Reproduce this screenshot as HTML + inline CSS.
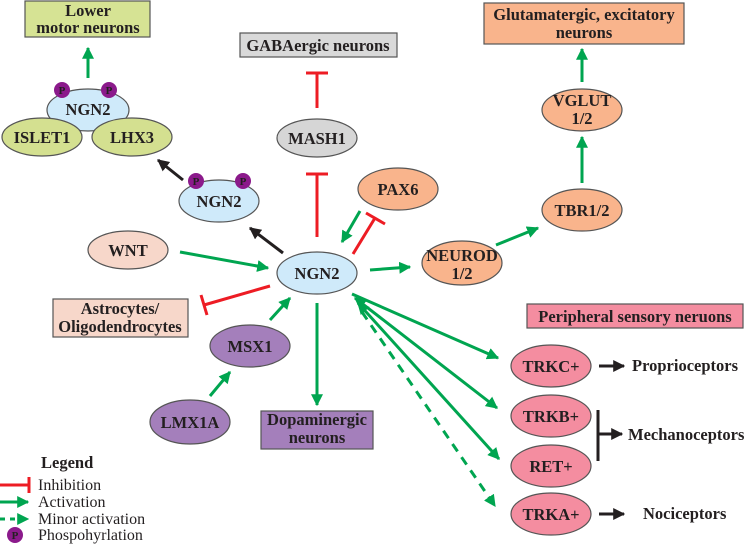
<!DOCTYPE html>
<html><head><meta charset="utf-8"><style>
html,body{margin:0;padding:0;background:#fff;}
svg{display:block;}
text{font-family:"Liberation Serif",serif;font-weight:bold;fill:#231f20;}
</style></head><body>
<svg width="744" height="545" viewBox="0 0 744 545" xmlns="http://www.w3.org/2000/svg">
<defs>
<marker id="g" viewBox="0 0 10 10" refX="9" refY="5" markerWidth="4" markerHeight="4" orient="auto-start-reverse" markerUnits="strokeWidth"><path d="M0,0 L10,5 L0,10 z" fill="#00a550"/></marker>
<marker id="k" viewBox="0 0 10 10" refX="9" refY="5" markerWidth="4" markerHeight="4" orient="auto" markerUnits="strokeWidth"><path d="M0,0 L10,5 L0,10 z" fill="#231f20"/></marker>
</defs>
<g stroke="#555" stroke-width="1.2">
<rect x="25" y="1" width="125" height="36" fill="#d6e394"/>
<rect x="240" y="33" width="157" height="24" fill="#d9d9d9"/>
<rect x="484" y="3" width="200" height="41" fill="#f9b48c"/>
<rect x="53" y="299" width="135" height="38" fill="#f7d7ca"/>
<rect x="261" y="411" width="112" height="38" fill="#a47fbb"/>
<rect x="527" y="304" width="216" height="24" fill="#f48da0"/>
<ellipse cx="88" cy="110" rx="41" ry="21" fill="#cfeafa"/>
<ellipse cx="42" cy="137" rx="40" ry="19" fill="#d4e090"/>
<ellipse cx="132" cy="137" rx="40" ry="19" fill="#d4e090"/>
<ellipse cx="219" cy="201" rx="40" ry="21" fill="#cfeafa"/>
<ellipse cx="317" cy="138" rx="40" ry="19" fill="#d6d6d6"/>
<ellipse cx="398" cy="189" rx="40" ry="21" fill="#f9b48c"/>
<ellipse cx="317" cy="273" rx="40" ry="21" fill="#cfeafa"/>
<ellipse cx="462" cy="263" rx="40" ry="22" fill="#f9b48c"/>
<ellipse cx="582" cy="210" rx="40" ry="21" fill="#f9b48c"/>
<ellipse cx="582" cy="110" rx="40" ry="21" fill="#f9b48c"/>
<ellipse cx="128" cy="250" rx="40" ry="19" fill="#f7d7ca"/>
<ellipse cx="250" cy="346" rx="40" ry="21" fill="#a47fbb"/>
<ellipse cx="190" cy="422" rx="40" ry="22" fill="#a47fbb"/>
<ellipse cx="551" cy="366" rx="40" ry="21" fill="#f48da0"/>
<ellipse cx="551" cy="416" rx="40" ry="21" fill="#f48da0"/>
<ellipse cx="551" cy="466" rx="40" ry="21" fill="#f48da0"/>
<ellipse cx="551" cy="514" rx="40" ry="21" fill="#f48da0"/>
</g>
<g fill="#8b1a8b">
<circle cx="62" cy="90" r="8"/><circle cx="109" cy="90" r="8"/>
<circle cx="196" cy="181" r="8"/><circle cx="243" cy="181" r="8"/>
<circle cx="15" cy="535" r="8"/>
</g>
<g font-size="11" text-anchor="middle">
<text x="62" y="94">P</text><text x="109" y="94">P</text>
<text x="196" y="185">P</text><text x="243" y="185">P</text>
<text x="15" y="539">P</text>
</g>
<g stroke="#00a550" stroke-width="3" fill="none" marker-end="url(#g)">
<line x1="88" y1="78" x2="88" y2="48"/>
<line x1="582" y1="82" x2="582" y2="49"/>
<line x1="582" y1="183" x2="582" y2="137"/>
<line x1="496" y1="245" x2="538" y2="228"/>
<line x1="370" y1="270" x2="410" y2="267"/>
<line x1="360" y1="211" x2="342" y2="242"/>
<line x1="180" y1="252" x2="268" y2="268"/>
<line x1="270" y1="320" x2="290" y2="298"/>
<line x1="210" y1="396" x2="230" y2="372"/>
<line x1="317" y1="303" x2="317" y2="405"/>
<line x1="352" y1="294" x2="498" y2="358"/>
<line x1="355" y1="298" x2="497" y2="408" marker-start="url(#g)"/>
<line x1="358" y1="303" x2="499" y2="459" marker-start="url(#g)"/>
<line x1="362" y1="312" x2="495" y2="506" stroke-dasharray="9,7"/>
</g>
<g stroke="#231f20" stroke-width="3" fill="none" marker-end="url(#k)">
<line x1="183" y1="180" x2="158" y2="160"/>
<line x1="283" y1="253" x2="250" y2="228"/>
<line x1="599" y1="366" x2="624" y2="366"/>
<line x1="598" y1="434" x2="622" y2="434"/>
<line x1="599" y1="514" x2="624" y2="514"/>
</g>
<line x1="598" y1="410" x2="598" y2="461" stroke="#231f20" stroke-width="3"/>
<g stroke="#ed1c24" stroke-width="3" fill="none">
<line x1="317" y1="108" x2="317" y2="73"/><line x1="306" y1="73" x2="328" y2="73"/>
<line x1="317" y1="237" x2="317" y2="174"/><line x1="306" y1="174" x2="328" y2="174"/>
<line x1="353" y1="254" x2="375" y2="218"/><line x1="366" y1="213" x2="385" y2="224"/>
<line x1="270" y1="286" x2="204" y2="305"/><line x1="201" y1="295" x2="207" y2="315"/>
<line x1="0" y1="485" x2="29" y2="485"/><line x1="29" y1="477" x2="29" y2="493"/>
</g>
<line x1="0" y1="502" x2="28" y2="502" stroke="#00a550" stroke-width="3" marker-end="url(#g)"/>
<line x1="0" y1="519" x2="28" y2="519" stroke="#00a550" stroke-width="3" stroke-dasharray="5,5" marker-end="url(#g)"/>
<g font-size="16.5" text-anchor="middle">
<text x="88" y="16">Lower</text><text x="88" y="33">motor neurons</text>
<text x="318" y="51">GABAergic neurons</text>
<text x="584" y="20">Glutamatergic, excitatory</text><text x="584" y="38">neurons</text>
<text x="120" y="314">Astrocytes/</text><text x="120" y="332">Oligodendrocytes</text>
<text x="317" y="425">Dopaminergic</text><text x="317" y="443">neurons</text>
<text x="635" y="322">Peripheral sensory neruons</text>
<text x="88" y="115">NGN2</text>
<text x="42" y="143">ISLET1</text><text x="132" y="143">LHX3</text>
<text x="219" y="207">NGN2</text>
<text x="317" y="144">MASH1</text>
<text x="398" y="195">PAX6</text>
<text x="317" y="279">NGN2</text>
<text x="462" y="261">NEUROD</text><text x="462" y="279">1/2</text>
<text x="582" y="216">TBR1/2</text>
<text x="582" y="106">VGLUT</text><text x="582" y="124">1/2</text>
<text x="128" y="256">WNT</text>
<text x="250" y="352">MSX1</text>
<text x="190" y="428">LMX1A</text>
<text x="551" y="372">TRKC+</text><text x="551" y="422">TRKB+</text>
<text x="551" y="472">RET+</text><text x="551" y="520">TRKA+</text>
</g>
<g font-size="16.5">
<text x="632" y="371">Proprioceptors</text>
<text x="628" y="440">Mechanoceptors</text>
<text x="643" y="519">Nociceptors</text>
<text x="41" y="468">Legend</text>
</g>
<g font-size="16">
<text x="38" y="490" style="font-weight:normal">Inhibition</text>
<text x="38" y="507" style="font-weight:normal">Activation</text>
<text x="38" y="524" style="font-weight:normal">Minor activation</text>
<text x="38" y="540" style="font-weight:normal">Phospohyrlation</text>
</g>
</svg>
</body></html>
